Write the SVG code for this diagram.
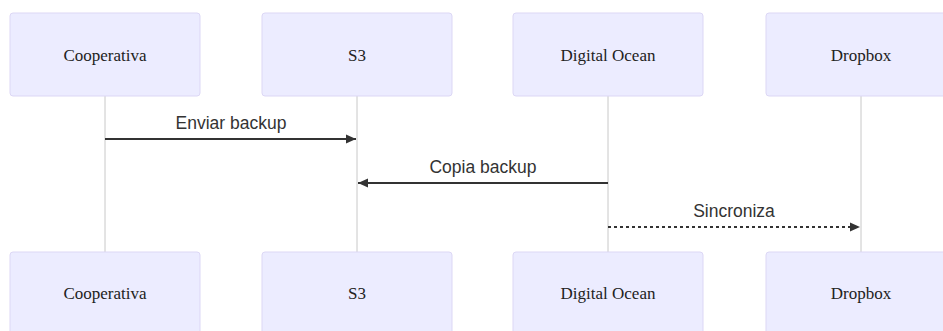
<svg xmlns="http://www.w3.org/2000/svg" width="943" height="331" viewBox="0 0 943 331">
<defs>
<style>
.actor{fill:#ECECFF;stroke:#DCD7F5;stroke-width:1}
.aname{font-family:"Liberation Serif",serif;font-size:17px;fill:#222;text-anchor:middle;dominant-baseline:central}
.life{stroke:#C8C8C8;stroke-width:1}
.msg{stroke:#333;stroke-width:2;fill:none}
.dash{stroke-dasharray:3,3}
.mtext{font-family:"Liberation Sans",Arial,sans-serif;font-size:17.5px;fill:#333;text-anchor:middle}
</style>
<marker id="arr" markerWidth="12" markerHeight="12" refX="10" refY="5" orient="auto" markerUnits="userSpaceOnUse">
<path d="M0,0.5 L10,5 L0,9.5 z" fill="#333"/>
</marker>
</defs>
<rect width="943" height="331" fill="#fff"/>
<g id="lifelines">
<line class="life" x1="105" y1="96" x2="105" y2="252"/>
<line class="life" x1="357" y1="96" x2="357" y2="252"/>
<line class="life" x1="608" y1="96" x2="608" y2="252"/>
<line class="life" x1="861" y1="96" x2="861" y2="252"/>
</g>
<g id="actor-cooperativa-top"><rect class="actor" x="10" y="13" width="190" height="83" rx="3"/><text class="aname" x="105" y="55">Cooperativa</text></g>
<g id="actor-s3-top"><rect class="actor" x="262" y="13" width="190" height="83" rx="3"/><text class="aname" x="357" y="55">S3</text></g>
<g id="actor-do-top"><rect class="actor" x="513" y="13" width="190" height="83" rx="3"/><text class="aname" x="608" y="55">Digital Ocean</text></g>
<g id="actor-dropbox-top"><rect class="actor" x="766" y="13" width="190" height="83" rx="3"/><text class="aname" x="861" y="55">Dropbox</text></g>
<g id="actor-cooperativa-bottom"><rect class="actor" x="10" y="252" width="190" height="83" rx="3"/><text class="aname" x="105" y="293">Cooperativa</text></g>
<g id="actor-s3-bottom"><rect class="actor" x="262" y="252" width="190" height="83" rx="3"/><text class="aname" x="357" y="293">S3</text></g>
<g id="actor-do-bottom"><rect class="actor" x="513" y="252" width="190" height="83" rx="3"/><text class="aname" x="608" y="293">Digital Ocean</text></g>
<g id="actor-dropbox-bottom"><rect class="actor" x="766" y="252" width="190" height="83" rx="3"/><text class="aname" x="861" y="293">Dropbox</text></g>
<g id="connectors">
<line class="msg" x1="105" y1="139" x2="356" y2="139" marker-end="url(#arr)"/>
<text class="mtext" x="231" y="129">Enviar backup</text>
<line class="msg" x1="608" y1="183" x2="358" y2="183" marker-end="url(#arr)"/>
<text class="mtext" x="483" y="173">Copia backup</text>
<line class="msg dash" x1="608" y1="227" x2="860" y2="227" marker-end="url(#arr)"/>
<text class="mtext" x="734" y="217">Sincroniza</text>
</g>
</svg>
